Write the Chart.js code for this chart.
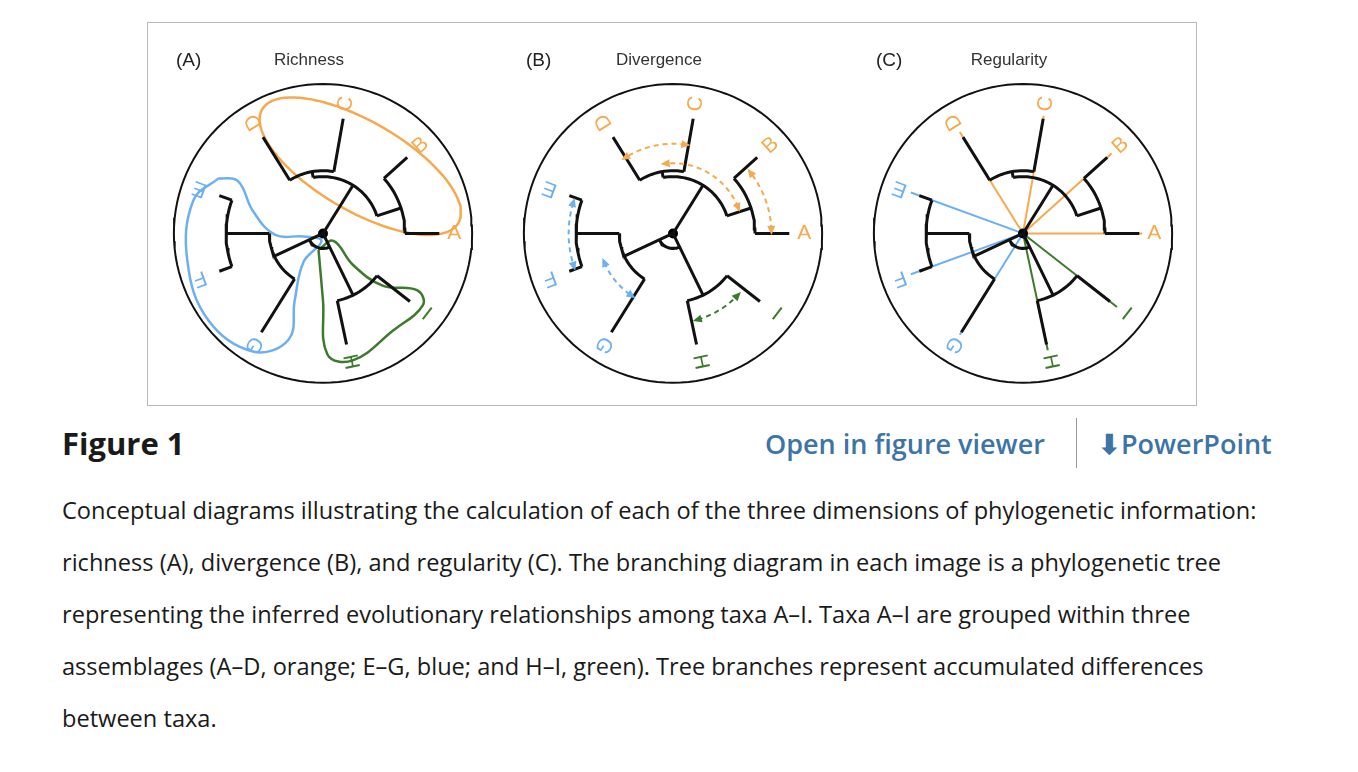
<!DOCTYPE html>
<html><head><meta charset="utf-8">
<script src="https://cdn.jsdelivr.net/npm/chart.js@4.4.1/dist/chart.umd.min.js"></script>
<style>
body{margin:0;background:#fff;font-family:"Open Sans",sans-serif;}
#box{position:absolute;left:147px;top:22px;width:1048px;height:382px;border:1px solid #b8b8b8;}
.pan{position:absolute;top:0;width:350px;height:382px;}
.pan canvas{position:absolute;left:0;top:0;}
.tag{position:absolute;top:26px;left:28px;font:19px "Liberation Sans",Arial,sans-serif;color:#222;}
.ttl{position:absolute;top:27px;width:350px;text-align:center;left:-14px;font:17px "Liberation Sans",Arial,sans-serif;color:#333;}
#fig{position:absolute;left:62px;top:422px;font-weight:700;font-size:31px;color:#1a1a1a;}
#links{position:absolute;left:765px;top:425px;font-size:27px;color:#3d74a8;font-weight:600;}
#sep{position:absolute;left:1076px;top:418px;width:1px;height:50px;background:#999;}
#pp{position:absolute;left:1098px;top:425px;font-size:27px;color:#3d74a8;font-weight:600;}
#cap{position:absolute;left:62px;top:484px;width:1290px;font-size:23.6px;line-height:52px;color:#1a1a1a;white-space:nowrap;}
</style></head><body>
<div id="box">
  <div class="pan" style="left:0"><canvas id="cA" width="350" height="382"></canvas><div class="tag">(A)</div><div class="ttl">Richness</div></div>
  <div class="pan" style="left:350px"><canvas id="cB" width="350" height="382"></canvas><div class="tag">(B)</div><div class="ttl">Divergence</div></div>
  <div class="pan" style="left:700px"><canvas id="cC" width="350" height="382"></canvas><div class="tag">(C)</div><div class="ttl">Regularity</div></div>
</div>
<div id="fig">Figure 1</div>
<div id="links">Open in figure viewer</div>
<div id="sep"></div>
<div id="pp">&#11015;PowerPoint</div>
<div id="cap">Conceptual diagrams illustrating the calculation of each of the three dimensions of phylogenetic information:<br>richness (A), divergence (B), and regularity (C). The branching diagram in each image is a phylogenetic tree<br>representing the inferred evolutionary relationships among taxa A–I. Taxa A–I are grouped within three<br>assemblages (A–D, orange; E–G, blue; and H–I, green). Tree branches represent accumulated differences<br>between taxa.</div>
<script>
// tree nodes: name, parent, radius (circle = 1), angle (deg, ccw from east)
const nodeNames  = ['root','O','AB','CD','A','B','C','D','Bl','EF','E','F','G','Gr','H','I'];
const nodeParent = [null,'root','O','O','AB','AB','CD','CD','root','Bl','EF','EF','Bl','root','Gr','Gr'];
const nodeRadius = [0,0.38,0.55,0.42,0.78,0.76,0.78,0.76,0.36,0.65,0.74,0.74,0.78,0.46,0.76,0.74];
const nodeAngle  = [0,58,18,100,0,42,80,122,205,180,160,200,238,296,282,322];
const taxa      = ['A','B','C','D','E','F','G','H','I'];
const taxaGroup = ['o','o','o','o','b','b','b','g','g'];
const colors = {o:'#f6a94e', b:'#6cb0f2', g:'#3c7a2c', k:'#111'};

// panel A hulls (circle units)
const hullBlueX = [-0.70,-0.87,-0.91,-0.77,-0.47,-0.23,-0.19,-0.13,-0.01,-0.13,-0.32,-0.47,-0.57];
const hullBlueY = [0.37,0.22,-0.18,-0.58,-0.79,-0.71,-0.45,-0.19,-0.05,-0.02,-0.01,0.15,0.35];
const hullGreenX = [-0.03,0.07,0.20,0.40,0.63,0.67,0.47,0.20,0.03,0.0];
const hullGreenY = [-0.11,-0.05,-0.21,-0.35,-0.38,-0.48,-0.65,-0.85,-0.81,-0.45];
// panel B dashed arrows: colour, radius, from angle, to angle
const arrowCol  = ['o','o','o','b','b','g'];
const arrowRad  = [0.6,0.66,0.47,0.7,0.5,0.6];
const arrowFrom = [82,2,22,163,203,286];
const arrowTo   = [122,38,96,198,236,316];

const rad = d => d*Math.PI/180;
const pt = (r,a) => ({x:r*Math.cos(rad(a)), y:r*Math.sin(rad(a))});
function arc(r,a0,a1){const p=[];const n=Math.max(2,Math.ceil(Math.abs(a1-a0)/3));for(let i=0;i<=n;i++)p.push(pt(r,a0+(a1-a0)*i/n));return p;}
function seg(data,col,w,dash){return {data,borderColor:col,borderWidth:w,borderDash:dash||[],showLine:true,pointRadius:0,tension:0,fill:false};}

function treeSets(){
  const ds=[];
  nodeNames.forEach((n,i)=>{
    const p=nodeParent[i]; if(p===null)return;
    const pi=nodeNames.indexOf(p);
    ds.push(seg([pt(nodeRadius[pi],nodeAngle[i]),pt(nodeRadius[i],nodeAngle[i])],colors.k,3));
    if(p==='root')return;
    const kids=nodeNames.map((m,j)=>nodeParent[j]===n?nodeAngle[j]:null).filter(v=>v!==null);
    if(kids.length) ds.push(seg(arc(nodeRadius[i],Math.min(...kids),Math.max(...kids)),colors.k,3));
  });
  nodeNames.forEach((n,i)=>{if(nodeParent[i]!=='root')return;
    const kids=nodeNames.map((m,j)=>nodeParent[j]===n?nodeAngle[j]:null).filter(v=>v!==null);
    ds.push(seg(arc(nodeRadius[i],Math.min(...kids),Math.max(...kids)),colors.k,3));});
  ds.push(seg(arc(0.1,205,296),colors.k,3));
  ds.push({data:[{x:0,y:0}],pointRadius:5,pointBackgroundColor:'#000',pointBorderWidth:0,showLine:false});
  return ds;
}
function circleSet(){return seg(arc(1,0,360),'#111',2);}
function hull(X,Y,col){const d=X.map((x,i)=>({x,y:Y[i]}));d.push(d[0]);return {...seg(d,col,2.5),tension:0.4};}
function ellipse(){const d=[];const c=Math.cos(rad(-30)),s=Math.sin(rad(-30));
  for(let t=0;t<=360;t+=4){const x=0.76*Math.cos(rad(t)),y=0.3*Math.sin(rad(t));d.push({x:0.25+x*c-y*s, y:0.45+x*s+y*c});}
  return seg(d,colors.o,2.5);}

const labelPlugin={id:'lbl',afterDatasetsDraw(ch,args,opt){
  const c=ch.ctx,xs=ch.scales.x,ys=ch.scales.y;
  c.save();c.font='21px "Liberation Sans",Arial,sans-serif';c.textAlign='center';c.textBaseline='middle';
  taxa.forEach((t,i)=>{const a=nodeAngle[nodeNames.indexOf(t)];const p=pt(0.88,a);
    c.save();c.translate(xs.getPixelForValue(p.x),ys.getPixelForValue(p.y));c.rotate(-rad(a));
    c.fillStyle=colors[taxaGroup[i]];c.fillText(t,0,0);c.restore();});
  if(opt.arrows){arrowCol.forEach((k,i)=>{[[arrowFrom[i],-1],[arrowTo[i],1]].forEach(([a,dir])=>{
    const p=pt(arrowRad[i],a),px=xs.getPixelForValue(p.x),py=ys.getPixelForValue(p.y);
    const tang=-rad(a)-dir*Math.PI/2;c.save();c.translate(px,py);c.rotate(tang);c.fillStyle=colors[k];
    c.beginPath();c.moveTo(5,0);c.lineTo(-4,-4);c.lineTo(-4,4);c.closePath();c.fill();c.restore();});});}
  c.restore();}};

function make(id,under,over,arrows){
  new Chart(document.getElementById(id),{type:'scatter',
    data:{datasets:[circleSet(),...under,...treeSets(),...over]},
    options:{responsive:false,animation:false,events:[],layout:{padding:0},
      plugins:{legend:{display:false},tooltip:{enabled:false},lbl:{arrows}},
      scales:{x:{display:false,min:-1.14,max:1.14},y:{display:false,min:-1.115,max:1.375}}},
    plugins:[labelPlugin]});
}
make('cA',[],[ellipse(),hull(hullBlueX,hullBlueY,colors.b),hull(hullGreenX,hullGreenY,colors.g)],false);
make('cB',arrowCol.map((k,i)=>seg(arc(arrowRad[i],arrowFrom[i],arrowTo[i]),colors[k],2,[5,4])),[],true);
make('cC',[],taxa.map((t,i)=>seg([{x:0,y:0},pt(0.8,nodeAngle[nodeNames.indexOf(t)])],colors[taxaGroup[i]],2)),false);
</script>
</body></html>
